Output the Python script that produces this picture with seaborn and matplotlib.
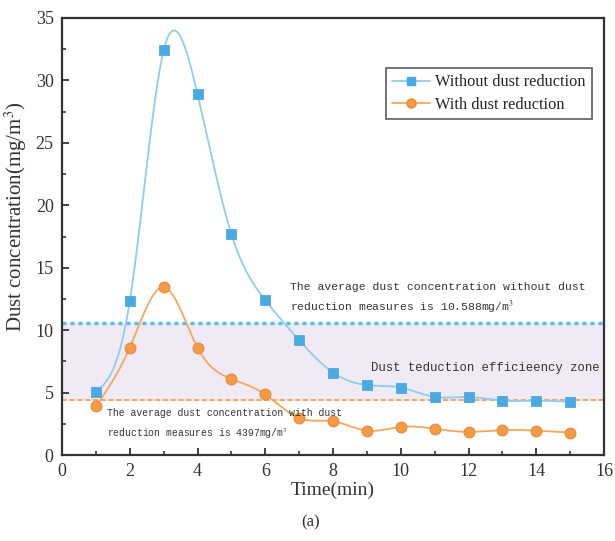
import numpy as np
import pandas as pd
import matplotlib
matplotlib.use("Agg")
import matplotlib.pyplot as plt
import seaborn as sns
from matplotlib.ticker import MultipleLocator
from matplotlib.lines import Line2D

# ---- data ----
time_min = [1, 2, 3, 4, 5, 6, 7, 8, 9, 10, 11, 12, 13, 14, 15]
without_reduction = [5.05, 12.3, 32.4, 28.9, 17.7, 12.4, 9.2, 6.6, 5.6, 5.4, 4.65, 4.65, 4.35, 4.35, 4.25]
with_reduction = [3.9, 8.6, 13.45, 8.6, 6.1, 4.85, 2.95, 2.7, 1.95, 2.25, 2.1, 1.85, 2.0, 1.95, 1.8]
avg_without = 10.588
avg_with = 4.397
series_names = ["Without dust reduction", "With dust reduction"]
x_ticks = [0, 2, 4, 6, 8, 10, 12, 14, 16]
y_ticks = [0, 5, 10, 15, 20, 25, 30, 35]

BLUE_LINE = "#8fcdf0"
BLUE_MARK = "#4aa8e2"
ORANGE_LINE = "#f7a75a"
ORANGE_MARK = "#f59a45"


def natural_spline(x, y, n=400):
    """Natural cubic spline used only to draw a smooth connecting line."""
    x = np.asarray(x, float)
    y = np.asarray(y, float)
    k = len(x)
    h = np.diff(x)
    A = np.zeros((k, k))
    b = np.zeros(k)
    A[0, 0] = A[-1, -1] = 1
    for i in range(1, k - 1):
        A[i, i - 1] = h[i - 1]
        A[i, i] = 2 * (h[i - 1] + h[i])
        A[i, i + 1] = h[i]
        b[i] = 6 * ((y[i + 1] - y[i]) / h[i] - (y[i] - y[i - 1]) / h[i - 1])
    M = np.linalg.solve(A, b)
    xs = np.linspace(x[0], x[-1], n)
    idx = np.clip(np.searchsorted(x, xs) - 1, 0, k - 2)
    x0, x1 = x[idx], x[idx + 1]
    hh = x1 - x0
    t0 = x1 - xs
    t1 = xs - x0
    ys = (M[idx] * t0 ** 3 + M[idx + 1] * t1 ** 3) / (6 * hh) \
        + (y[idx] / hh - M[idx] * hh / 6) * t0 \
        + (y[idx + 1] / hh - M[idx + 1] * hh / 6) * t1
    return xs, ys


sns.set_style("white")
plt.rcParams["font.family"] = ["Liberation Serif", "DejaVu Serif"]
plt.rcParams["mathtext.fontset"] = "stix"

fig = plt.figure(figsize=(6.15, 5.41), dpi=100)
ax = fig.add_axes([62 / 615, 1 - 455 / 541, (604 - 62) / 615, (455 - 18) / 541])

# shaded efficiency zone
ax.axhspan(avg_with, avg_without, color="#efeaf3", zorder=0)
ax.axhline(avg_without, color="#5ab8ec", ls=(0, (1.2, 1.2)), lw=2.4, zorder=1)
ax.axhline(avg_with, color="#f6a457", ls=(0, (2.5, 1.5)), lw=1.4, zorder=1)

# smooth curves
sx, sy = natural_spline(time_min, without_reduction)
sns.lineplot(x=sx, y=sy, ax=ax, color=BLUE_LINE, lw=1.3, zorder=2, sort=False)
ox, oy = natural_spline(time_min, with_reduction)
sns.lineplot(x=ox, y=oy, ax=ax, color=ORANGE_LINE, lw=1.3, zorder=2, sort=False)

# markers
df = pd.DataFrame({"t": time_min + time_min,
                   "c": without_reduction + with_reduction,
                   "s": [series_names[0]] * len(time_min) + [series_names[1]] * len(time_min)})
sns.scatterplot(data=df[df.s == series_names[0]], x="t", y="c", ax=ax, marker="s", s=50,
                color=BLUE_MARK, edgecolor=BLUE_MARK, zorder=3, legend=False)
sns.scatterplot(data=df[df.s == series_names[1]], x="t", y="c", ax=ax, marker="o", s=60,
                color=ORANGE_MARK, edgecolor="#e8893a", linewidth=0.8, zorder=3, legend=False)

ax.set_xlim(0, 16)
ax.set_ylim(0, 35)
ax.set_xticks(x_ticks)
ax.set_yticks(y_ticks)
ax.xaxis.set_minor_locator(MultipleLocator(1))
ax.yaxis.set_minor_locator(MultipleLocator(2.5))
ax.tick_params(which="major", direction="in", length=5, width=1.3, labelsize=13,
               colors="#333333", pad=6)
ax.tick_params(which="minor", direction="in", length=3, width=1.1)
ax.tick_params(which="both", bottom=True, left=True, top=False, right=False)
for sp in ax.spines.values():
    sp.set_color("#333333")
    sp.set_linewidth(1.6)

ax.set_xlabel("Time(min)", fontsize=14, color="#333333")
ax.xaxis.set_label_coords(0.5, -0.062)
ax.set_ylabel("Dust concentration(mg/m$^3$)", fontsize=15, color="#333333")
ax.yaxis.set_label_coords(-0.06, 0.545)

# legend
handles = [Line2D([], [], color=BLUE_LINE, marker="s", markersize=6, markerfacecolor=BLUE_MARK,
                  markeredgecolor=BLUE_MARK, lw=1.3),
           Line2D([], [], color=ORANGE_LINE, marker="o", markersize=6.5, markerfacecolor=ORANGE_MARK,
                  markeredgecolor="#e8893a", lw=1.3)]
leg = ax.legend(handles, series_names, loc="upper right", bbox_to_anchor=(0.978, 0.886),
                fontsize=11.8, frameon=True, fancybox=False, handlelength=2.3, handletextpad=0.3,
                borderpad=0.4, labelspacing=0.4, borderaxespad=0)
leg.get_frame().set_edgecolor("#444444")
leg.get_frame().set_linewidth(1.3)

mono = ["Liberation Mono", "DejaVu Sans Mono"]
ax.text(6.74, 12.47, "The average dust concentration without dust\nreduction measures is 10.588mg/m$^3$",
        fontsize=8.2, family=mono, color="#333333", va="center", linespacing=1.55)
ax.text(9.11, 6.95, "Dust teduction efficieency zone", fontsize=8.8, family=mono,
        color="#333333", va="center")
ax.text(1.33, 2.44, "The average dust concentration with dust\nreduction measures is 4397mg/m$^3$",
        fontsize=7.0, family=mono, color="#333333", va="center", linespacing=1.75)

fig.text(311 / 615, 1 - 522 / 541, "(a)", ha="center", va="center", fontsize=12, color="#333333")

fig.savefig("out.png", dpi=100)
